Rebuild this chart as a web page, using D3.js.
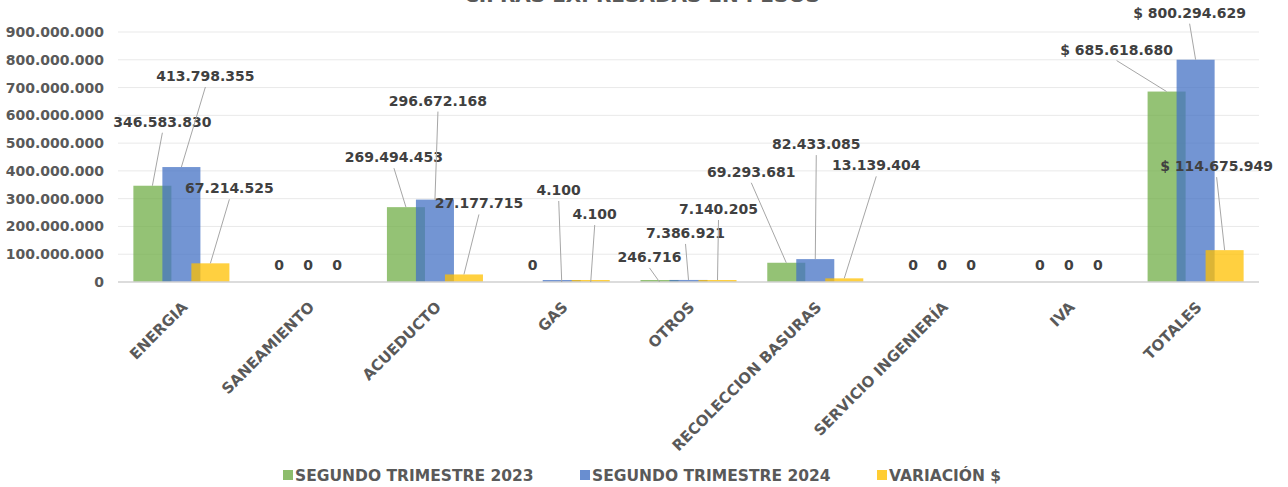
<!DOCTYPE html>
<html>
<head>
<meta charset="utf-8">
<script src="https://cdn.jsdelivr.net/npm/d3@7"></script>
<style>
  body { margin: 0; background: #fff; }
  text { font-family: "DejaVu Sans", sans-serif; }
</style>
</head>
<body>
<div id="visualization"></div>
<script>
// Chart data
var categories = ["ENERGIA", "SANEAMIENTO", "ACUEDUCTO", "GAS", "OTROS",
                  "RECOLECCION BASURAS", "SERVICIO INGENIERÍA", "IVA", "TOTALES"];
var seriesNames = ["SEGUNDO TRIMESTRE 2023", "SEGUNDO TRIMESTRE 2024", "VARIACIÓN $"];
var trimestre2023 = [346583830, 0, 269494453, 0, 246716, 69293681, 0, 0, 685618680];
var trimestre2024 = [413798355, 0, 296672168, 4100, 7386921, 82433085, 0, 0, 800294629];
var variacion = [67214525, 0, 27177715, 4100, 7140205, 13139404, 0, 0, 114675949];
var yTicks = [0, 100000000, 200000000, 300000000, 400000000, 500000000,
              600000000, 700000000, 800000000, 900000000];
var titleText = "CIFRAS EXPRESADAS EN PESOS";

// Layout only: where each data label was dragged to (px from the bar top)
var nudge2023 = [[10,-64],[0,-17],[-12,-50],[0,-17],[-10,-25],[-35,-91],[0,-17],[0,-17],[-50,-42]];
var nudge2024 = [[24,-91],[0,-17],[3,-99],[-3,-92],[-3,-47],[1,-115],[0,-17],[0,-17],[-6,-47]];
var nudgeVar  = [[19,-75],[0,-17],[15,-71],[4,-68],[1,-71],[32,-113],[0,-17],[0,-17],[-8,-84]];

var colors = ["#70AD47", "#4472C4", "#FFC000"];

var locale = d3.formatLocale({decimal: ",", thousands: ".", grouping: [3], currency: ["$ ", ""]});
var fmtNum = locale.format(",.0f");
var fmtCur = locale.format("$,.0f");

var width = 1288, height = 487;
// NOTE: can't call it "top", that's window.top
var plotLeft = 118, plotRight = 1259, plotTop = 32, plotBottom = 282;

var svg = d3.select("#visualization").append("svg")
            .attr("width", width)
            .attr("height", height);

var x = d3.scaleBand().domain(categories).range([plotLeft, plotRight]);
var sub = d3.scalePoint().domain(seriesNames).range([-29, 29]);
var barW = x.bandwidth() * 0.3;
var y = d3.scaleLinear().domain([0, 900000000]).range([plotBottom, plotTop]);

// title, mostly cut off by the top edge
svg.append("text")
   .attr("x", 642).attr("y", 2)
   .attr("text-anchor", "middle")
   .attr("font-size", 20)
   .attr("font-weight", "bold")
   .attr("fill", "#595959")
   .text(titleText);

// gridlines
svg.append("g").selectAll("line")
   .data(yTicks.slice(1))
   .join("line")
   .attr("x1", plotLeft).attr("x2", plotRight)
   .attr("y1", d => y(d)).attr("y2", d => y(d))
   .attr("stroke", "#e9e9e9").attr("stroke-width", 1);

// y axis labels
var yAxis = svg.append("g")
   .attr("transform", "translate(" + plotLeft + ",0)")
   .call(d3.axisLeft(y).tickValues(yTicks).tickFormat(fmtNum).tickSize(0).tickPadding(14));
yAxis.select(".domain").remove();
yAxis.selectAll("text")
   .attr("font-family", "DejaVu Sans").attr("font-weight", "bold")
   .attr("font-size", 14).attr("fill", "#595959");

// bars, one series at a time so later ones lie on top
var allSeries = [trimestre2023, trimestre2024, variacion];
var nudges = [nudge2023, nudge2024, nudgeVar];

function barX(i, s) { return x(categories[i]) + x.bandwidth() / 2 + sub(seriesNames[s]); }
function barTop(v) { return v > 0 ? Math.min(y(v), plotBottom - 2) : plotBottom; }

allSeries.forEach(function(values, s) {
  svg.append("g").selectAll("rect")
     .data(values)
     .join("rect")
     .attr("x", (d, i) => barX(i, s) - barW / 2)
     .attr("y", d => barTop(d))
     .attr("width", barW)
     .attr("height", d => plotBottom - barTop(d))
     .attr("fill", colors[s])
     .attr("fill-opacity", 0.75);
});

// x axis line
svg.append("line")
   .attr("x1", plotLeft).attr("x2", plotRight)
   .attr("y1", plotBottom).attr("y2", plotBottom)
   .attr("stroke", "#d0d0d0").attr("stroke-width", 1.5);

// x axis labels, turned 45 degrees
var xAxis = svg.append("g")
   .attr("transform", "translate(0," + plotBottom + ")")
   .call(d3.axisBottom(x).tickSize(0).tickPadding(0));
xAxis.select(".domain").remove();
xAxis.selectAll("text")
   .attr("font-family", "DejaVu Sans").attr("font-weight", "bold")
   .attr("font-size", 15).attr("fill", "#595959")
   .attr("text-anchor", "end")
   .attr("dy", null)
   .attr("transform", "translate(7,26) rotate(-45)");

// data labels with leader lines
allSeries.forEach(function(values, s) {
  var g = svg.append("g");
  values.forEach(function(v, i) {
    var bx = barX(i, s), by = y(v);
    var lx = bx + nudges[s][i][0], ly = by + nudges[s][i][1];
    if (v > 0) {
      g.append("line")
       .attr("x1", lx).attr("y1", ly + 11)
       .attr("x2", bx).attr("y2", by)
       .attr("stroke", "#a6a6a6").attr("stroke-width", 1);
    }
    var isTotal = categories[i] == "TOTALES";
    g.append("text")
     .attr("x", lx).attr("y", ly)
     .attr("dy", "0.36em")
     .attr("text-anchor", "middle")
     .attr("font-weight", "bold")
     .attr("font-size", 14)
     .attr("fill", "#404040")
     .text(isTotal ? fmtCur(v) : fmtNum(v));
  });
});

// legend
var legendX = [283, 580, 877];
var legend = svg.append("g").selectAll("g")
   .data(seriesNames)
   .join("g")
   .attr("transform", (d, i) => "translate(" + legendX[i] + ",475)");
legend.append("rect")
   .attr("x", 0).attr("y", -5)
   .attr("width", 10).attr("height", 10)
   .attr("fill", (d, i) => colors[i]).attr("fill-opacity", 0.8);
legend.append("text")
   .attr("x", 12).attr("dy", "0.36em")
   .attr("font-weight", "bold").attr("font-size", 15.5)
   .attr("fill", "#595959")
   .text(d => d);
</script>
</body>
</html>
